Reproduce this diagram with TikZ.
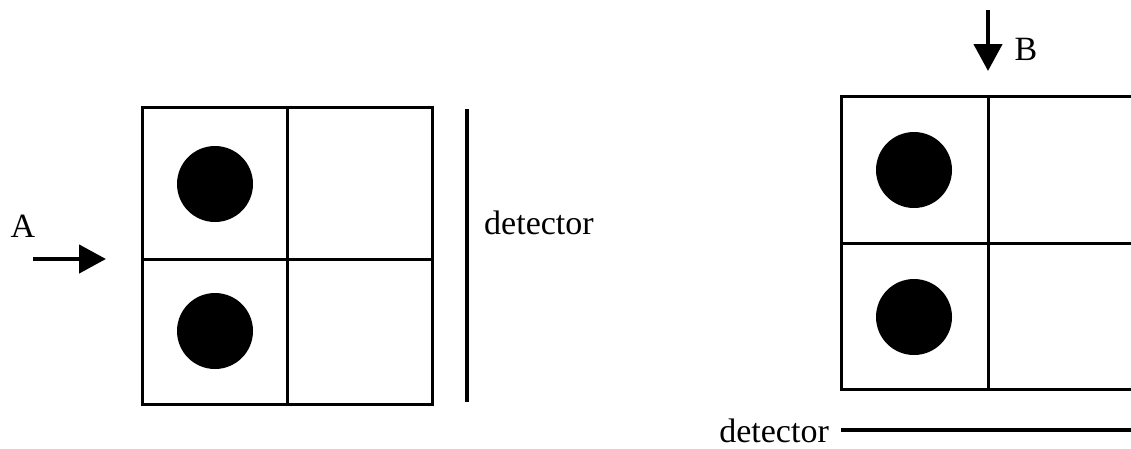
\documentclass[tikz,border=0pt]{standalone}
\usepackage{fontspec}
\setmainfont{Liberation Serif}
\usetikzlibrary{arrows.meta}
\begin{document}
\begin{tikzpicture}[x=1pt,y=-1pt,
  gridline/.style={line width=3pt},
  detline/.style={line width=4.5pt},
  beam/.style={line width=4.5pt,-{Triangle[length=27pt,width=28pt]}},
  atom/.style={fill=black},
  lbl/.style={inner sep=0pt,font=\fontsize{34}{40}\selectfont}]
\useasboundingbox (0,0) rectangle (1131,448);
% left grid
\draw[gridline] (142,107) rectangle (432,404);
\draw[gridline] (287,107) -- (287,404);
\draw[gridline] (142,259) -- (432,259);
\fill[atom] (215,184) circle (38);
\fill[atom] (215,331) circle (38);
\coordinate (dAt) at (467,109);
\coordinate (dAb) at (467,402);
\draw[detline] (dAt) -- (dAb);
\node[lbl,anchor=west] (detA) at (484,223) {detector};
\coordinate (aS) at (33,259);
\coordinate (aE) at (106,259);
\draw[beam] (aS) -- (aE);
\node[lbl] (labA) at (23,226) {A};
% right grid
\draw[gridline] (841,96) rectangle (1137,389);
\draw[gridline] (988,96) -- (988,389);
\draw[gridline] (841,243) -- (1137,243);
\fill[atom] (914,170) circle (38);
\fill[atom] (914,317) circle (38);
\coordinate (bS) at (988,10);
\coordinate (bE) at (988,71);
\draw[beam] (bS) -- (bE);
\node[lbl] (labB) at (1026,49) {B};
\coordinate (dBl) at (841,430);
\coordinate (dBr) at (1135,430);
\draw[detline] (dBl) -- (dBr);
\node[lbl,anchor=east] (detB) at (829,431) {detector};
\end{tikzpicture}
\end{document}
